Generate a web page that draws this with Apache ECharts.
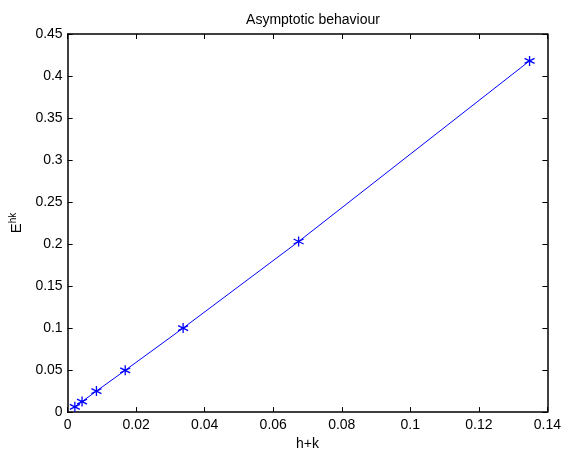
<!DOCTYPE html>
<html>
<head>
<meta charset="utf-8">
<script src="https://cdn.jsdelivr.net/npm/echarts@6/dist/echarts.min.js"></script>
<style>
    html, body { margin: 0; padding: 0; background: #fff; }
    #chart { width: 564px; height: 456px; }
</style>
</head>
<body>
<div id="chart"></div>
<script>
    // values
    const stepSizes = [0.0021, 0.0042, 0.0084, 0.0168, 0.0337, 0.0674, 0.1348];
    const errors = [0.0063, 0.0125, 0.025, 0.0497, 0.1, 0.203, 0.418];
    const xTicks = [0, 0.02, 0.04, 0.06, 0.08, 0.1, 0.12, 0.14];
    const yTicks = [0, 0.05, 0.1, 0.15, 0.2, 0.25, 0.3, 0.35, 0.4, 0.45];

    const font = 'Liberation Sans, Arial, sans-serif';
    const star = 'path://M0,-5L0,5M-4.33,-2.5L4.33,2.5M-4.33,2.5L4.33,-2.5';

    let chart = echarts.init(document.getElementById('chart'));

    let baseAxis = {
        axisLine: { show: true, onZero: false, lineStyle: { color: '#000', width: 1.5 } },
        axisTick: { show: true, inside: true, length: 5, lineStyle: { color: '#000' } },
        splitLine: { show: false },
        axisLabel: { color: '#000', fontSize: 14, fontFamily: font }
    };

    let option = {
        animation: false,
        title: {
            text: 'Asymptotic behaviour',
            left: 308,
            textAlign: 'center',
            top: 8,
            textStyle: { fontSize: 14, fontWeight: 'normal', color: '#000', fontFamily: font }
        },
        grid: { left: 67, right: 15, top: 34, bottom: 41 },
        xAxis: [
            Object.assign({}, baseAxis, {
                type: 'value',
                min: xTicks[0],
                max: xTicks[xTicks.length - 1],
                interval: 0.02,
                name: 'h+k',
                nameLocation: 'middle',
                nameGap: 24,
                nameTextStyle: { fontSize: 14, color: '#000', fontFamily: font },
                axisLabel: Object.assign({}, baseAxis.axisLabel, { margin: 6 })
            }),
            Object.assign({}, baseAxis, {
                type: 'value',
                position: 'top',
                min: xTicks[0],
                max: xTicks[xTicks.length - 1],
                interval: 0.02,
                axisLabel: { show: false }
            })
        ],
        yAxis: [
            Object.assign({}, baseAxis, {
                type: 'value',
                min: yTicks[0],
                max: yTicks[yTicks.length - 1],
                interval: 0.05,
                name: '{e|E}{s|hk}',
                nameLocation: 'middle',
                nameGap: 40,
                nameRotate: 90,
                nameTextStyle: {
                    color: '#000',
                    fontFamily: font,
                    rich: {
                        e: { fontSize: 15, fontFamily: font, color: '#000', lineHeight: 17 },
                        s: { fontSize: 10, fontFamily: font, color: '#000', verticalAlign: 'top', padding: [0, 0, 8, 0] }
                    }
                },
                axisLabel: Object.assign({}, baseAxis.axisLabel, { margin: 5 })
            }),
            Object.assign({}, baseAxis, {
                type: 'value',
                position: 'right',
                min: yTicks[0],
                max: yTicks[yTicks.length - 1],
                interval: 0.05,
                axisLabel: { show: false }
            })
        ],
        series: [{
            type: 'line',
            data: stepSizes.map((x, i) => [x, errors[i]]),
            symbol: star,
            symbolSize: 10,
            showAllSymbol: true,
            lineStyle: { color: '#0000ff', width: 1 },
            itemStyle: { color: 'none', borderColor: '#0000ff', borderWidth: 1.3 }
        }]
    };
    chart.setOption(option);
</script>
</body>
</html>
